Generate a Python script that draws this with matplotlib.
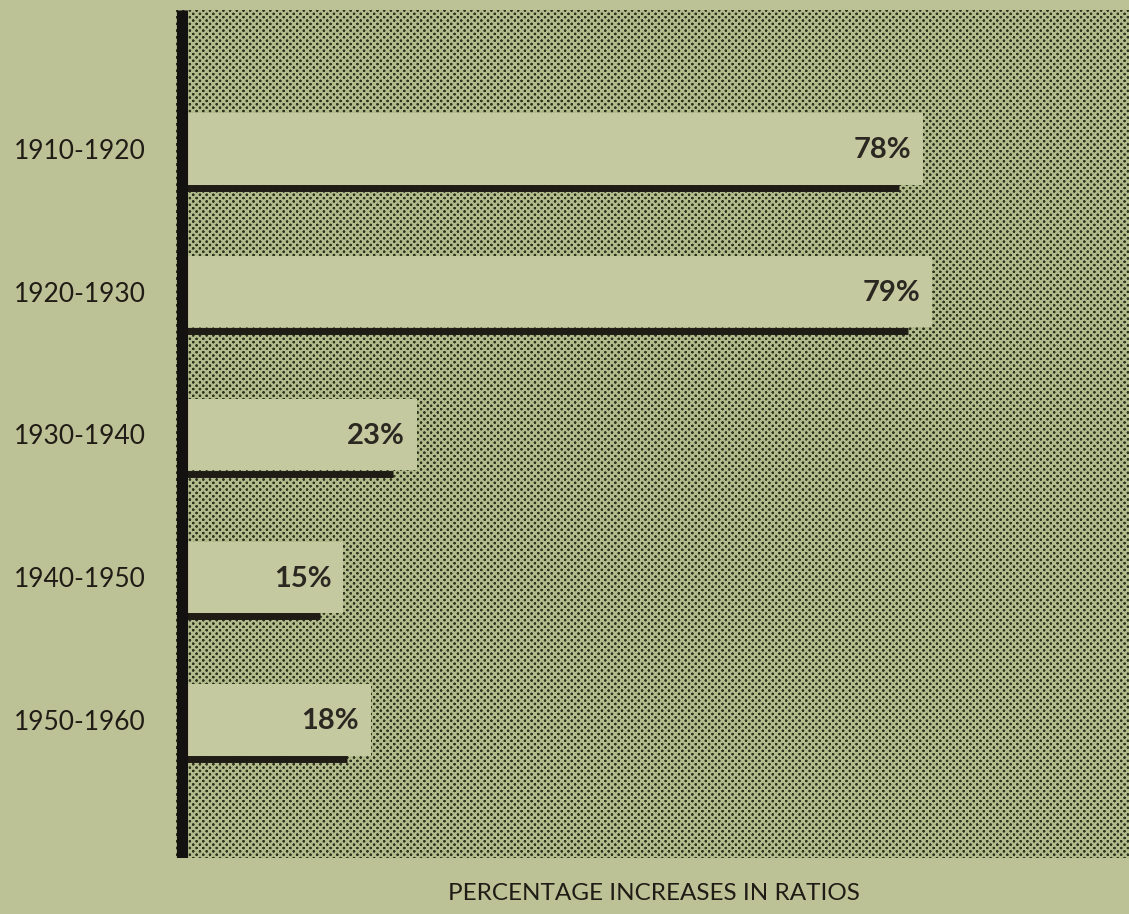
import numpy as np
import matplotlib
matplotlib.use("Agg")
import matplotlib.pyplot as plt
from matplotlib.patches import Rectangle

plt.rcParams['font.family'] = ['Lato', 'DejaVu Sans']

periods = ["1910-1920", "1920-1930", "1930-1940", "1940-1950", "1950-1960"]
increases = [78, 79, 23, 15, 18]
value_labels = ["78%", "79%", "23%", "15%", "18%"]
x_title = "PERCENTAGE INCREASES IN RATIOS"

W, H, DPI = 1129, 914, 100
PAGE = "#bcc295"
PANEL_LIGHT = "#b3bb8c"
DOT = "#2b331d"
BOX = "#c5c9a0"
INK = "#1f1c16"

fig = plt.figure(figsize=(W / DPI, H / DPI), dpi=DPI, facecolor=PAGE)
left_px, right_px, top_px, bot_px = 176, 1129, 10, 858
ax = fig.add_axes([left_px / W, 1 - bot_px / H,
                   (right_px - left_px) / W, (bot_px - top_px) / H])

# x scale: zero sits in the middle of the heavy baseline
px_per_unit = 9.2
zero_px = 181.5
ax.set_xlim(-(zero_px - left_px) / px_per_unit, (right_px - zero_px) / px_per_unit)
ax.set_ylim(4.967, -0.974)

# halftone screen behind the bars (45-degree dot lattice)
aw, ah = right_px - left_px, bot_px - top_px
yy, xx = np.mgrid[0:ah, 0:aw].astype(float)
s = 6.7
u = (xx + yy) / s
v = (xx - yy) / s
du = u - np.round(u)
dv = v - np.round(v)
d = np.sqrt(du ** 2 + dv ** 2) * s / np.sqrt(2)
dark = np.clip((1.7 - d) / 0.7, 0, 1)
c0 = np.array(matplotlib.colors.to_rgb(PANEL_LIGHT))
c1 = np.array(matplotlib.colors.to_rgb(DOT))
tex = c0[None, None, :] * (1 - dark[..., None]) + c1[None, None, :] * dark[..., None]
ax.imshow(tex, extent=[0, 1, 0, 1], transform=ax.transAxes, aspect="auto",
          interpolation="nearest", zorder=0)

box_pad = 2.6
half_h = 0.25
for i, (val, lab) in enumerate(zip(increases, value_labels)):
    ax.add_patch(Rectangle((0, i - half_h), val + box_pad, 2 * half_h,
                           facecolor=BOX, edgecolor="none", zorder=2))
    ax.hlines(i + half_h + 0.025, 0, val, colors=INK, linewidth=5.0, zorder=3)
    ax.text(val + box_pad - 1.3, i + 0.01, lab, ha="right", va="center",
            fontsize=21, fontweight="bold", color="#2a2820", zorder=4)

ax.axvline(0, color="#141210", linewidth=8.0, zorder=5, solid_capstyle="butt")

ax.set_yticks(range(len(periods)))
ax.set_yticklabels(periods, fontsize=19, color=INK)
ax.tick_params(axis="y", length=0, pad=22)
ax.set_xticks([])
for sp in ax.spines.values():
    sp.set_visible(False)

fig.text(654 / W, 1 - 893 / H, x_title, ha="center", va="center",
         fontsize=17.5, color=INK)

fig.savefig("out.png", dpi=DPI, facecolor=PAGE)
